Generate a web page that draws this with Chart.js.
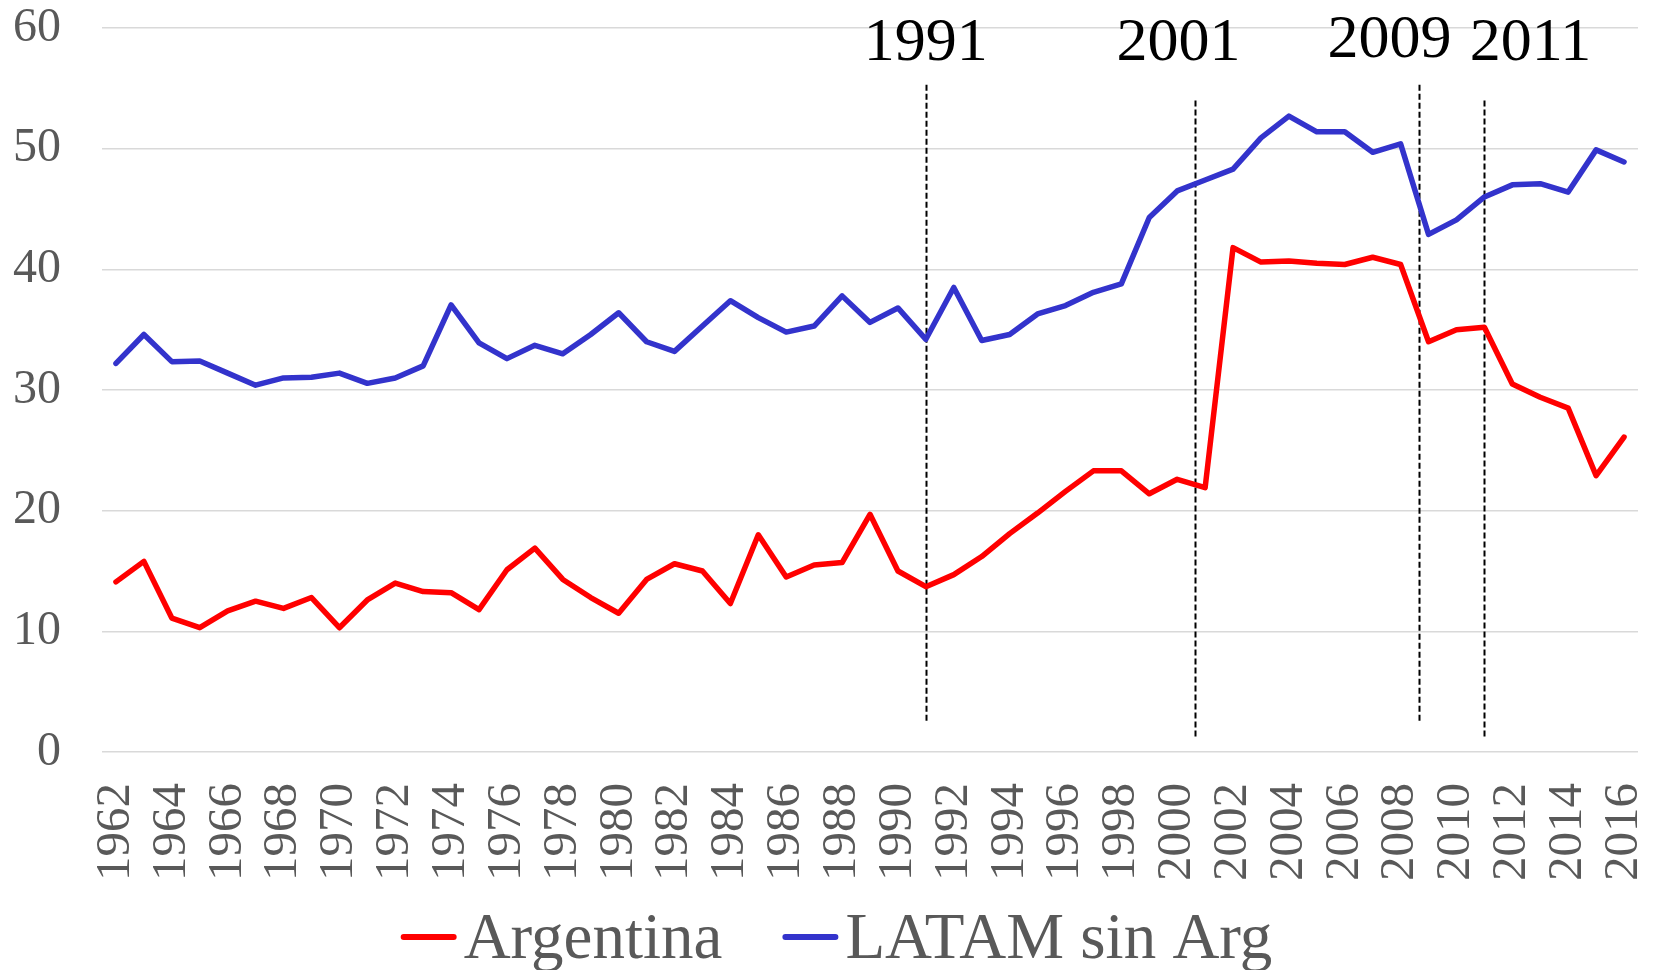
<!DOCTYPE html>
<html>
<head>
<meta charset="utf-8">
<script src="https://cdn.jsdelivr.net/npm/chart.js@4.4.1/dist/chart.umd.min.js"></script>
<style>
  html, body { margin: 0; padding: 0; background: #fff; }
</style>
</head>
<body>
<canvas id="chart" width="1657" height="970"></canvas>
<script>
const years = ['1962','1963','1964','1965','1966','1967','1968','1969','1970','1971',
  '1972','1973','1974','1975','1976','1977','1978','1979','1980','1981',
  '1982','1983','1984','1985','1986','1987','1988','1989','1990','1991',
  '1992','1993','1994','1995','1996','1997','1998','1999','2000','2001',
  '2002','2003','2004','2005','2006','2007','2008','2009','2010','2011',
  '2012','2013','2014','2015','2016']

const argentina = [14.1, 15.8, 11.1, 10.3, 11.7, 12.5, 11.9, 12.8, 10.3, 12.6,
  14.0, 13.3, 13.2, 11.8, 15.1, 16.9, 14.3, 12.8, 11.5, 14.3,
  15.6, 15.0, 12.3, 18.0, 14.5, 15.5, 15.7, 19.7, 15.0, 13.7,
  14.7, 16.2, 18.1, 19.8, 21.6, 23.3, 23.3, 21.4, 22.6, 21.9,
  41.8, 40.6, 40.7, 40.5, 40.4, 41.0, 40.4, 34.0, 35.0, 35.2,
  30.5, 29.4, 28.5, 22.9, 26.1]

const latam = [32.2, 34.6, 32.35, 32.4, 31.4, 30.4, 31.0, 31.05, 31.4, 30.55,
  31.0, 32.0, 37.05, 33.9, 32.6, 33.7, 33.0, 34.6, 36.4, 34.0,
  33.2, 35.3, 37.4, 36.0, 34.8, 35.3, 37.8, 35.6, 36.8, 34.2,
  38.5, 34.1, 34.6, 36.3, 37.0, 38.1, 38.8, 44.3, 46.5, 47.4,
  48.3, 50.9, 52.7, 51.4, 51.4, 49.7, 50.4, 42.9, 44.1, 46.0,
  47.0, 47.1, 46.4, 49.9, 48.9]

// event markers: label, where the dashed line sits (year), its top/bottom value, where the label sits
const eventLabels = ['1991', '2001', '2009', '2011']
const eventLineYear = [1991, 2000.64, 2008.66, 2011]
const eventLineTop = [55.3, 54.0, 55.3, 54.0]
const eventLineBottom = [2.5, 1.2, 2.5, 1.2]
const eventLabelYear = [1991.0, 2000.05, 2007.6, 2012.65]
const eventLabelValue = [57.35, 57.35, 57.6, 57.35]

const serif = '"Liberation Serif", "Times New Roman", serif'
Chart.defaults.font.family = serif

const eventsPlugin = {
  id: 'events',
  beforeDatasetsDraw(chart) {
    const { ctx, scales: { x, y } } = chart
    ctx.save()
    ctx.strokeStyle = '#000'
    ctx.lineWidth = 2
    ctx.setLineDash([6, 3])
    eventLineYear.forEach((yr, i) => {
      const px = Math.round(x.getPixelForValue(yr - 1962)) + 0.5
      ctx.beginPath()
      ctx.moveTo(px, y.getPixelForValue(eventLineTop[i]))
      ctx.lineTo(px, y.getPixelForValue(eventLineBottom[i]))
      ctx.stroke()
    })
    ctx.restore()
  },
  afterDatasetsDraw(chart) {
    const { ctx, scales: { x, y } } = chart
    ctx.save()
    ctx.fillStyle = '#000'
    ctx.font = '62px ' + serif
    ctx.textAlign = 'center'
    ctx.textBaseline = 'alphabetic'
    eventLabels.forEach((txt, i) => {
      ctx.fillText(txt, x.getPixelForValue(eventLabelYear[i] - 1962), y.getPixelForValue(eventLabelValue[i]))
    })
    ctx.restore()
  }
}

const legendPlugin = {
  id: 'bottomLegend',
  afterDraw(chart) {
    const ctx = chart.ctx
    ctx.save()
    ctx.font = '65px ' + serif
    const items = chart.data.datasets.map(ds => ({
      text: ds.label, color: ds.borderColor, w: ctx.measureText(ds.label).width
    }))
    const lineW = 56, gap = 7, itemGap = 60
    const total = items.reduce((s, it) => s + lineW + gap + it.w, 0) + itemGap * (items.length - 1)
    let cx = (chart.width - total) / 2 + 8
    items.forEach(it => {
      ctx.strokeStyle = it.color
      ctx.lineWidth = 6
      ctx.lineCap = 'round'
      ctx.beginPath()
      ctx.moveTo(cx + 3, 937)
      ctx.lineTo(cx + lineW - 3, 937)
      ctx.stroke()
      ctx.fillStyle = '#595959'
      ctx.textBaseline = 'alphabetic'
      ctx.fillText(it.text, cx + lineW + gap, 958)
      cx += lineW + gap + it.w + itemGap
    })
    ctx.restore()
  }
}

new Chart(document.getElementById('chart'), {
  type: 'line',
  data: {
    labels: years,
    datasets: [
      {
        label: 'Argentina',
        data: argentina,
        borderColor: '#FF0000',
        borderWidth: 5.5,
        pointRadius: 0,
        borderJoinStyle: 'round',
        borderCapStyle: 'round'
      },
      {
        label: 'LATAM sin Arg',
        data: latam,
        borderColor: '#3333CC',
        borderWidth: 5.5,
        pointRadius: 0,
        borderJoinStyle: 'round',
        borderCapStyle: 'round'
      }
    ]
  },
  options: {
    responsive: false,
    animation: false,
    devicePixelRatio: 1,
    layout: { padding: { top: 28, right: 19, left: 0, bottom: 0 } },
    plugins: {
      legend: { display: false },
      tooltip: { enabled: false }
    },
    scales: {
      x: {
        offset: true,
        grid: { display: false, drawTicks: false },
        border: { display: false },
        ticks: {
          autoSkip: false,
          minRotation: 90,
          maxRotation: 90,
          padding: 31,
          color: '#595959',
          font: { size: 49, family: serif },
          callback: (v, i) => (i % 2 === 0 ? years[i] : '')
        },
        afterFit: scale => {
          scale.height = 218
          scale.paddingLeft = 0
          scale.paddingRight = 0
        }
      },
      y: {
        min: 0,
        max: 60,
        grid: { color: '#D9D9D9', lineWidth: 1.5, drawTicks: false },
        border: { display: false },
        ticks: {
          stepSize: 10,
          padding: 41,
          color: '#595959',
          font: { size: 48, family: serif }
        },
        afterFit: scale => {
          scale.width = 102
          scale.paddingTop = 0
          scale.paddingBottom = 0
        }
      }
    }
  },
  plugins: [eventsPlugin, legendPlugin]
})
</script>
</body>
</html>
